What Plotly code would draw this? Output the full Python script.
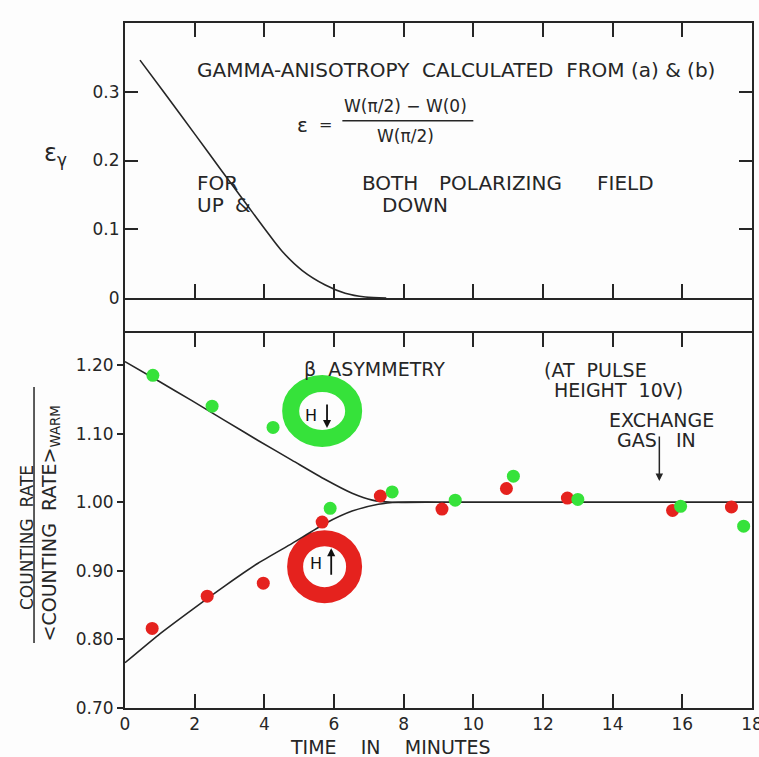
import plotly.graph_objects as go

# ---------------- data ----------------
# top panel: calculated gamma anisotropy curve
gamma_t = [0.43, 1.15, 2.01, 2.79, 3.45, 4.02, 4.51, 5.09, 5.75, 6.32, 6.90, 7.50]
gamma_eps = [0.346, 0.297, 0.238, 0.184, 0.139, 0.100, 0.068, 0.040, 0.019, 0.007, 0.0015, 0.0]

# bottom panel: smooth curves drawn through the beta asymmetry data
upper_t = [0.0, 0.95, 1.92, 2.87, 3.82, 4.80, 5.75, 6.52, 7.10, 7.67, 9.0, 11.0, 13.0, 15.0, 18.0]
upper_v = [1.205, 1.177, 1.148, 1.119, 1.090, 1.061, 1.033, 1.013, 1.003, 1.0,
           1.0, 1.0, 1.0, 1.0, 1.0]
lower_t = [0.0, 0.95, 1.92, 2.87, 3.82, 4.80, 5.75, 6.52, 7.27, 7.85, 9.0, 11.0, 13.0, 15.0, 18.0]
lower_v = [0.766, 0.806, 0.843, 0.878, 0.911, 0.940, 0.969, 0.987, 0.997, 1.0,
           1.0, 1.0, 1.0, 1.0, 1.0]

# measured points: H down (green) and H up (red)
green_t = [0.80, 2.50, 4.25, 5.89, 7.67, 9.48, 11.15, 13.00, 15.95, 17.76]
green_v = [1.185, 1.140, 1.109, 0.991, 1.015, 1.003, 1.038, 1.004, 0.994, 0.965]
red_t = [0.78, 2.36, 3.97, 5.66, 7.33, 9.10, 10.95, 12.70, 15.72, 17.41]
red_v = [0.816, 0.863, 0.882, 0.971, 1.009, 0.990, 1.020, 1.006, 0.988, 0.993]

x_ticks = [0, 2, 4, 6, 8, 10, 12, 14, 16, 18]
x_ticktext = ["0", "2", "4", "6", "8", "10", "12", "14", "16", "18"]
top_ticks = [0, 0.1, 0.2, 0.3]
top_ticktext = ["0", "0.1", "0.2", "0.3"]
low_ticks = [0.70, 0.80, 0.90, 1.00, 1.10, 1.20]
low_ticktext = ["0.70", "0.80", "0.90", "1.00", "1.10", "1.20"]

# ---------------- style ----------------
INK = "#262626"
GREEN = "#36e23a"
RED = "#e5221e"
FONT = "DejaVu Sans"

fig = go.Figure()

fig.add_trace(go.Scatter(x=gamma_t, y=gamma_eps, mode="lines", xaxis="x2", yaxis="y",
                         line=dict(color=INK, width=1.6, shape="spline", smoothing=0.8),
                         hoverinfo="skip"))
fig.add_trace(go.Scatter(x=upper_t, y=upper_v, mode="lines", xaxis="x", yaxis="y2",
                         line=dict(color=INK, width=1.6, shape="spline", smoothing=0.6),
                         hoverinfo="skip"))
fig.add_trace(go.Scatter(x=lower_t, y=lower_v, mode="lines", xaxis="x", yaxis="y2",
                         line=dict(color=INK, width=1.6, shape="spline", smoothing=0.6),
                         hoverinfo="skip"))
fig.add_trace(go.Scatter(x=red_t, y=red_v, mode="markers", xaxis="x", yaxis="y2",
                         marker=dict(color=RED, size=13, line=dict(width=0))))
fig.add_trace(go.Scatter(x=green_t, y=green_v, mode="markers", xaxis="x", yaxis="y2",
                         marker=dict(color=GREEN, size=13, line=dict(width=0))))
# spacer subplot (keeps the frame continuous between the panels)
fig.add_trace(go.Scatter(x=[], y=[], xaxis="x3", yaxis="y3"))

axis_common = dict(showgrid=False, zeroline=False, showline=True, linecolor=INK,
                   linewidth=2, tickcolor=INK, tickwidth=2, automargin=False)

D_LOW = 0.5474
D_TOP = 0.5985

fig.update_layout(
    width=759, height=757,
    margin=dict(l=125, r=7, t=23, b=49, autoexpand=False),
    paper_bgcolor="#fdfdfd", plot_bgcolor="#fdfdfd",
    showlegend=False,
    font=dict(family=FONT, color=INK, size=17),
    xaxis=dict(domain=[0, 1], anchor="y2", range=[0, 18], tickvals=x_ticks,
               ticktext=x_ticktext, ticks="inside", ticklen=14, mirror="ticks",
               ticklabeloverflow="allow", tickfont=dict(size=17), **axis_common),
    xaxis2=dict(domain=[0, 1], anchor="y", matches="x", range=[0, 18], tickvals=x_ticks,
                ticks="inside", ticklen=14, mirror="ticks", showticklabels=False,
                **axis_common),
    xaxis3=dict(domain=[0, 1], anchor="y3", matches="x", visible=False),
    yaxis=dict(domain=[D_TOP, 1], anchor="x2", range=[0, 0.4], tickvals=top_ticks,
               ticktext=top_ticktext, ticks="inside", ticklen=13, mirror="ticks",
               tickfont=dict(size=17), **axis_common),
    yaxis2=dict(domain=[0, D_LOW], anchor="x", range=[0.70, 1.2466], tickvals=low_ticks,
                ticktext=low_ticktext, ticks="outside", ticklen=6, mirror=True,
                tickfont=dict(size=17), **axis_common),
    yaxis3=dict(domain=[D_LOW, D_TOP], anchor="x3", range=[0, 1], showticklabels=False,
                ticks="", mirror=True, **axis_common),
    yaxis4=dict(overlaying="y2", side="right", anchor="x", range=[0.70, 1.2466],
                tickvals=low_ticks, ticks="inside", ticklen=15, showticklabels=False,
                showgrid=False, zeroline=False, showline=False, tickcolor=INK, tickwidth=2,
                automargin=False),
)


def txt(x, y, s, size, xref="x2", yref="y", xa="left", **kw):
    d = dict(x=x, y=y, xref=xref, yref=yref, xanchor=xa, yanchor="middle", text=s,
             showarrow=False, font=dict(size=size))
    d.update(kw)
    return d


def arrow(x, y, ax, ay, xref, yref, width, size, **kw):
    d = dict(x=x, y=y, ax=ax, ay=ay, xref=xref, yref=yref, text="", showarrow=True,
             arrowhead=2, arrowsize=size, arrowwidth=width, arrowcolor="#111",
             font=dict(size=10))
    d.update(kw)
    return d


ann = []
# top panel texts
ann.append(txt(2.01, 0.3316, "GAMMA-ANISOTROPY  CALCULATED  FROM (a) & (b)", 20))
ann.append(txt(4.88, 0.252, "ε", 20))
ann.append(txt(5.76, 0.252, "=", 16, xa="center"))
ann.append(txt(8.05, 0.279, "W(π/2) − W(0)", 17, xa="center"))
ann.append(txt(8.05, 0.236, "W(π/2)", 17, xa="center"))
ann.append(txt(2.01, 0.167, "FOR", 20))
ann.append(txt(6.76, 0.167, "BOTH", 20))
ann.append(txt(8.97, 0.167, "POLARIZING", 20))
ann.append(txt(13.5, 0.167, "FIELD", 20))
ann.append(txt(2.01, 0.136, "UP", 20))
ann.append(txt(3.10, 0.136, "&", 20))
ann.append(txt(7.33, 0.136, "DOWN", 20))
# lower panel texts
ann.append(txt(5.08, 1.194, "β  ASYMMETRY", 19, xref="x", yref="y2"))
ann.append(txt(11.98, 1.192, "(AT  PULSE", 19, xref="x", yref="y2"))
ann.append(txt(12.27, 1.163, "HEIGHT  10V)", 19, xref="x", yref="y2"))
ann.append(txt(13.85, 1.120, "EXCHANGE", 19, xref="x", yref="y2"))
ann.append(txt(14.08, 1.090, "GAS", 19, xref="x", yref="y2"))
ann.append(txt(15.75, 1.090, "IN", 19, xref="x", yref="y2"))
ann.append(arrow(15.34, 1.031, 15.34, 1.098, "x", "y2", 1.5, 1, axref="x", ayref="y2",
                 arrowcolor=INK))
# field direction labels inside the rings
ann.append(txt(5.34, 1.127, "H", 16, xref="x", yref="y2", xa="center",
               font=dict(size=16, color="#111")))
ann.append(arrow(5.80, 1.108, 0, -25, "x", "y2", 1.8, 0.9))
ann.append(txt(5.49, 0.911, "H", 16, xref="x", yref="y2", xa="center",
               font=dict(size=16, color="#111")))
ann.append(arrow(5.92, 0.933, 0, 28, "x", "y2", 1.8, 0.9))
# axis titles
ann.append(txt(-0.1116, 0.8073, "ε<sub>γ</sub>", 24, xref="paper", yref="paper",
               xa="center"))
ann.append(txt(-0.1563, 0.2496, "COUNTING  RATE", 17, xref="paper", yref="paper",
               xa="center", textangle=-90))
ann.append(txt(-0.1190, 0.270, "&lt;COUNTING  RATE&gt;<sub>WARM</sub>", 19,
               xref="paper", yref="paper", xa="center", textangle=-90))
ann.append(txt(0.4242, -0.0569, "TIME    IN    MINUTES", 19, xref="paper", yref="paper",
               xa="center"))
fig.update_layout(annotations=ann)

shapes = []
# fraction bar of the anisotropy formula
shapes.append(dict(type="line", xref="x2", yref="y", x0=6.24, x1=10.0, y0=0.258, y1=0.258,
                   line=dict(color=INK, width=1.5)))
# fraction bar of the lower y title
shapes.append(dict(type="line", xref="paper", yref="paper", x0=-0.1451, x1=-0.1451,
                   y0=0.095, y1=0.4686, line=dict(color=INK, width=1.5)))
# field-direction ring icons
shapes.append(dict(type="circle", xref="x", yref="y2", xsizemode="pixel", ysizemode="pixel",
                   xanchor=5.66, yanchor=1.133, x0=-31.5, x1=31.5, y0=-27.5, y1=27.5,
                   line=dict(color=GREEN, width=17), layer="below"))
shapes.append(dict(type="circle", xref="x", yref="y2", xsizemode="pixel", ysizemode="pixel",
                   xanchor=5.73, yanchor=0.906, x0=-29.5, x1=29.5, y0=-28.5, y1=28.5,
                   line=dict(color=RED, width=16), layer="below"))
fig.update_layout(shapes=shapes)

fig.write_html("out.html")
